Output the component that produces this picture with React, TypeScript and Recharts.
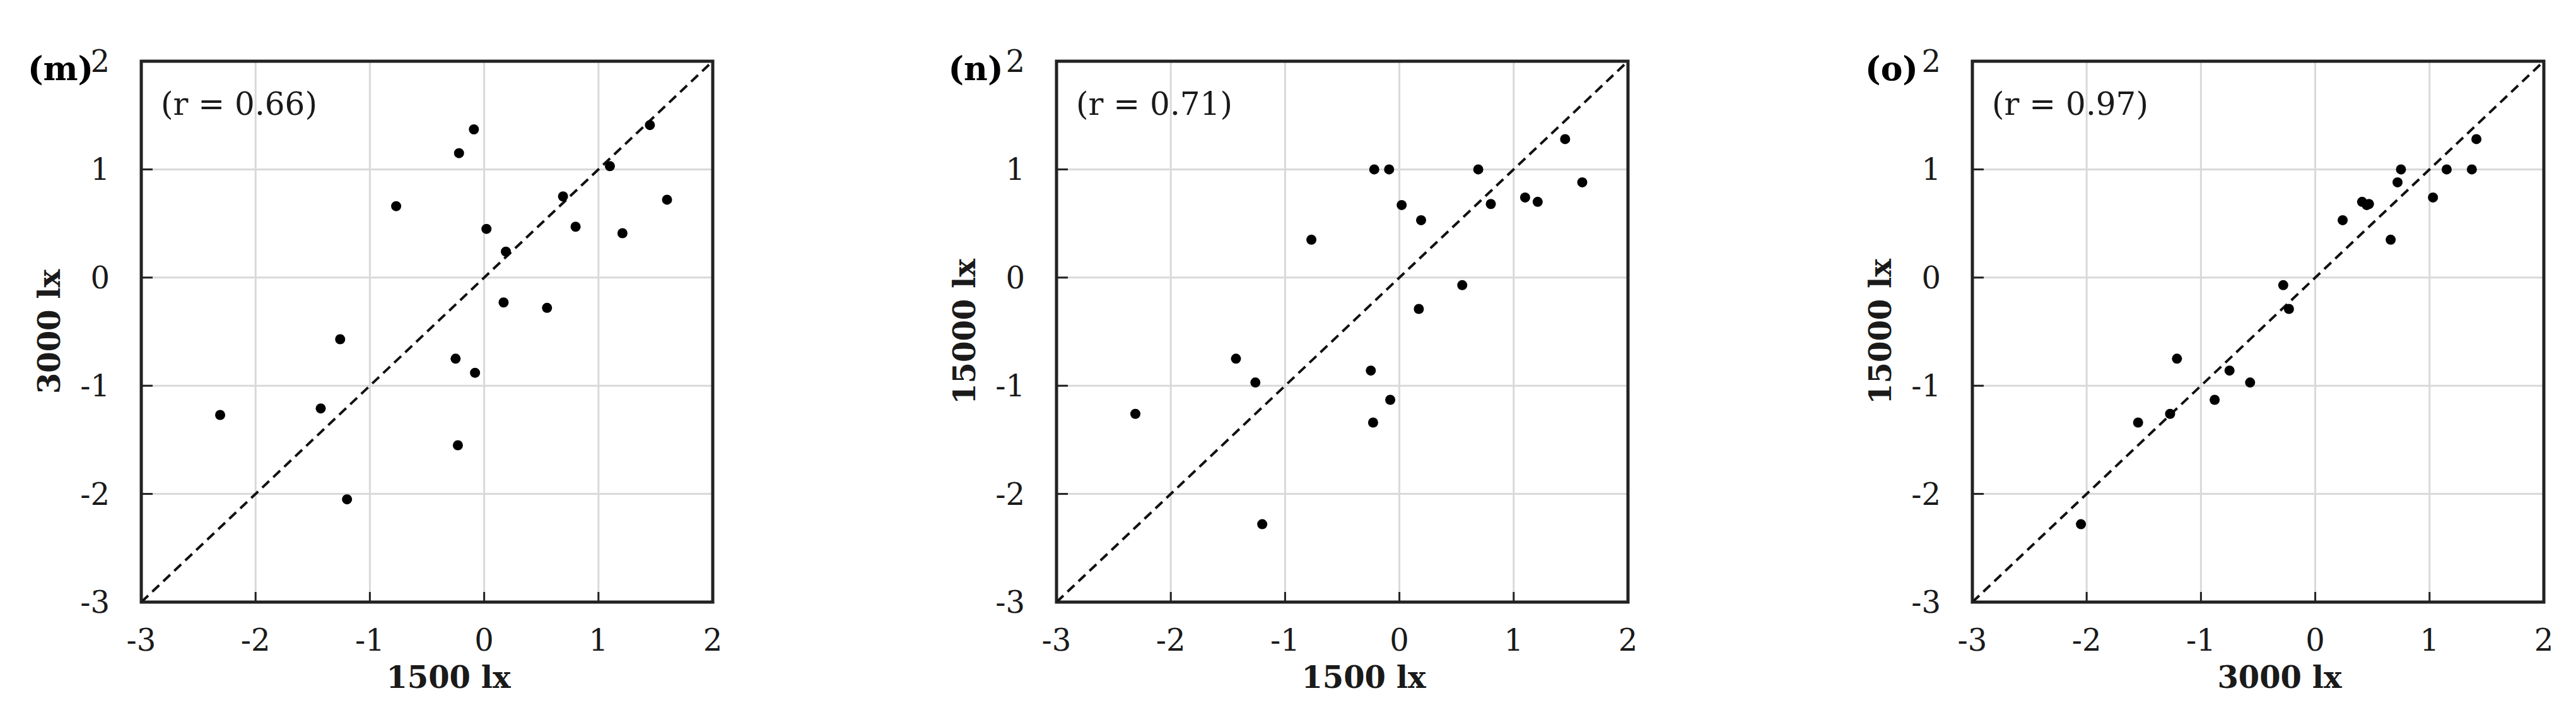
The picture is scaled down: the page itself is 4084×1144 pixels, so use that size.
import React from "react";
import {
  CartesianGrid,
  ReferenceArea,
  ReferenceLine,
  Scatter,
  ScatterChart,
  XAxis,
  YAxis,
} from "recharts";

// standardized scores of the 20 samples under each light level
const lx1500 = [-2.31, -1.43, -1.26, -1.2, -0.77, -0.25, -0.23, -0.22, -0.09, -0.08, 0.02, 0.17, 0.19, 0.55, 0.69, 0.8, 1.1, 1.21, 1.45, 1.6];
const lx3000 = [-1.27, -1.21, -0.57, -2.05, 0.66, -0.75, -1.55, 1.15, 1.37, -0.88, 0.45, -0.23, 0.24, -0.28, 0.75, 0.47, 1.03, 0.41, 1.41, 0.72];
const lx15000 = [-1.26, -0.75, -0.97, -2.28, 0.35, -0.86, -1.34, 1.0, 1.0, -1.13, 0.67, -0.29, 0.53, -0.07, 1.0, 0.68, 0.74, 0.7, 1.28, 0.88];

const axisTicks = [-3, -2, -1, 0, 1, 2];
const panelTags = ["(m)", "(n)", "(o)"];
const rValues = ["0.66", "0.71", "0.97"];
const xTitles = ["1500 lx", "1500 lx", "3000 lx"];
const yTitles = ["3000 lx", "15000 lx", "15000 lx"];

const FONT = "'DejaVu Serif', serif";
const INK = "#1a1a1a";

const tickStyle = { fontSize: 48, fontFamily: FONT, fill: INK };

const Dot = (p: any) => <circle cx={p.cx} cy={p.cy} r={8} fill="#000" />;

const XTitle = ({ viewBox, text }: any) => {
  if (!viewBox) return null;
  return (
    <text
      x={viewBox.x + viewBox.width / 2 + 34}
      y={viewBox.y + 136}
      textAnchor="middle"
      fontFamily={FONT}
      fontWeight="bold"
      fontSize={48}
      fill={INK}
    >
      {text}
    </text>
  );
};

const YTitle = ({ viewBox, text }: any) => {
  if (!viewBox) return null;
  const cx = viewBox.x + viewBox.width - 146;
  const cy = viewBox.y + viewBox.height / 2;
  return (
    <text
      x={cx}
      y={cy}
      transform={`rotate(-90 ${cx} ${cy})`}
      textAnchor="middle"
      dominantBaseline="central"
      fontFamily={FONT}
      fontWeight="bold"
      fontSize={48}
      fill={INK}
    >
      {text}
    </text>
  );
};

// panel tag outside the frame and the r value inside it
const FrameNotes = ({ viewBox, tag, r }: any) => {
  if (!viewBox) return null;
  return (
    <g>
      <text
        x={viewBox.x - 128}
        y={viewBox.y + 30}
        textAnchor="middle"
        fontFamily={FONT}
        fontWeight="bold"
        fontSize={52}
        fill="#000"
      >
        {tag}
      </text>
      <text
        x={viewBox.x + 31}
        y={viewBox.y + 85}
        fontFamily={FONT}
        fontSize={50}
        fill={INK}
      >
        {`(r = ${r})`}
      </text>
    </g>
  );
};

type PanelProps = {
  idx: number;
  xs: number[];
  ys: number[];
  left: number;
};

function Panel({ idx, xs, ys, left }: PanelProps) {
  const data = xs.map((x, i) => ({ x, y: ys[i] }));
  return (
    <div style={{ position: "absolute", left, top: 0 }}>
      <ScatterChart
        width={1150}
        height={1144}
        margin={{ top: 97, right: 20, bottom: 40, left: 74 }}
      >
        <CartesianGrid stroke="#d9d9d9" strokeWidth={3} />
        <XAxis
          type="number"
          dataKey="x"
          domain={[-3, 2]}
          ticks={axisTicks}
          interval={0}
          height={150}
          axisLine={false}
          tickSize={-16}
          tickMargin={59}
          tickLine={{ stroke: "#222", strokeWidth: 3 }}
          tick={tickStyle}
          label={<XTitle text={xTitles[idx]} />}
        />
        <YAxis
          type="number"
          dataKey="y"
          domain={[-3, 2]}
          ticks={axisTicks}
          interval={0}
          width={150}
          axisLine={false}
          tickSize={-18}
          tickMargin={68}
          tickLine={{ stroke: "#222", strokeWidth: 3 }}
          tick={tickStyle}
          label={<YTitle text={yTitles[idx]} />}
        />
        <ReferenceArea
          x1={-3}
          x2={2}
          y1={-3}
          y2={2}
          fill="none"
          stroke="#222"
          strokeWidth={5}
          ifOverflow="visible"
          label={<FrameNotes tag={panelTags[idx]} r={rValues[idx]} />}
        />
        <ReferenceLine
          segment={[
            { x: -3, y: -3 },
            { x: 2, y: 2 },
          ]}
          stroke="#111"
          strokeWidth={4}
          strokeDasharray="15 9"
          ifOverflow="visible"
        />
        <Scatter data={data} shape={Dot} fill="#000" isAnimationActive={false} />
      </ScatterChart>
    </div>
  );
}

export default function App() {
  return (
    <div
      style={{
        position: "absolute",
        left: 0,
        top: 0,
        width: 4084,
        height: 1144,
        overflow: "hidden",
        background: "#fff",
      }}
    >
      <Panel idx={0} xs={lx1500} ys={lx3000} left={0} />
      <Panel idx={1} xs={lx1500} ys={lx15000} left={1451} />
      <Panel idx={2} xs={lx3000} ys={lx15000} left={2903} />
    </div>
  );
}
